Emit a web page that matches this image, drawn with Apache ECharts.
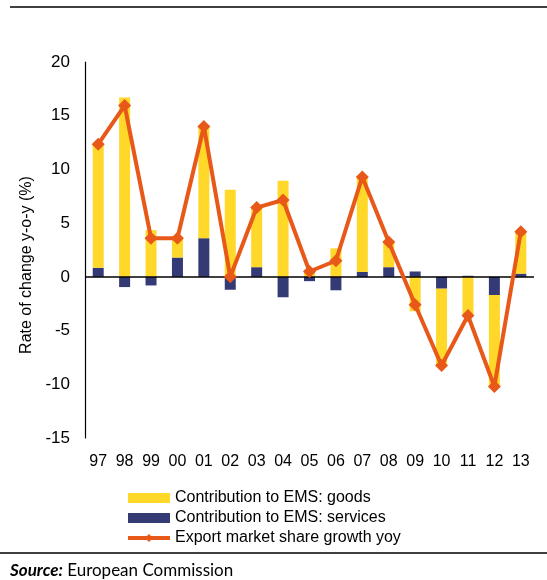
<!DOCTYPE html>
<html>
<head>
<meta charset="utf-8">
<script src="https://cdn.jsdelivr.net/npm/echarts@6/dist/echarts.min.js"></script>
<style>
  html, body { margin: 0; padding: 0; background: #fff; }
  #chart { width: 547px; height: 580px; }
</style>
</head>
<body>
<div id="chart"></div>
<script>
// years 1997-2013
const years = ['97', '98', '99', '00', '01', '02', '03', '04', '05', '06', '07', '08', '09', '10', '11', '12', '13'];
// contribution of services (bottom of stack)
const services = [0.85, -0.95, -0.8, 1.8, 3.6, -1.2, 0.9, -1.9, -0.4, -1.25, 0.45, 0.9, 0.5, -1.1, 0.1, -1.7, 0.3];
// contribution of goods
const goods = [11.55, 16.7, 4.35, 1.95, 10.4, 8.1, 5.65, 8.95, 0.5, 2.65, 8.9, 2.35, -3.2, -7.1, -3.5, -8.35, 3.85];
// export market share growth yoy
const emsGrowth = [12.35, 15.95, 3.6, 3.6, 14.0, 0, 6.45, 7.15, 0.5, 1.5, 9.3, 3.25, -2.6, -8.25, -3.6, -10.2, 4.2];
const yTicks = [-15, 20, 5]; // min, max, step

const chart = echarts.init(document.getElementById('chart'));
const FONT = '"Liberation Sans", Arial, sans-serif';

const option = {
  backgroundColor: '#fff',
  animation: false,
  textStyle: { fontFamily: FONT },
  grid: { left: 85, right: 13, top: 62, bottom: 142, containLabel: false },
  legend: {
    orient: 'vertical',
    left: 121,
    top: 485,
    itemWidth: 42,
    itemHeight: 10,
    itemGap: 4,
    textStyle: { fontSize: 16, color: '#000', fontFamily: FONT },
    data: [
      { name: 'Contribution to EMS: goods', icon: 'rect' },
      { name: 'Contribution to EMS: services', icon: 'rect' },
      { name: 'Export market share growth yoy', lineStyle: { width: 4 } }
    ]
  },
  xAxis: {
    type: 'category',
    data: years,
    axisLine: { show: false, onZero: false },
    axisTick: { show: false },
    axisLabel: { color: '#000', fontSize: 16, margin: 16, fontFamily: FONT }
  },
  yAxis: {
    type: 'value',
    min: yTicks[0],
    max: yTicks[1],
    interval: yTicks[2],
    axisLine: { show: true, lineStyle: { color: '#000', width: 1.2 } },
    axisTick: { show: false },
    splitLine: { show: false },
    axisLabel: { color: '#000', fontSize: 17, margin: 15, fontFamily: FONT }
  },
  series: [
    {
      name: 'Contribution to EMS: services',
      type: 'bar',
      stack: 'ems',
      barWidth: 11,
      data: services,
      itemStyle: { color: '#343A74' },
      markLine: {
        silent: true,
        symbol: 'none',
        label: { show: false },
        lineStyle: { color: '#000', width: 1.5, type: 'solid' },
        data: [{ yAxis: 0 }]
      }
    },
    {
      name: 'Contribution to EMS: goods',
      type: 'bar',
      stack: 'ems',
      barWidth: 11,
      data: goods,
      itemStyle: { color: '#FFD829' }
    },
    {
      name: 'Export market share growth yoy',
      type: 'line',
      data: emsGrowth,
      symbol: 'diamond',
      symbolSize: 13,
      lineStyle: { color: '#E85819', width: 4 },
      itemStyle: { color: '#E85819' },
      z: 5
    }
  ],
  graphic: [
    {
      type: 'line',
      shape: { x1: 10, y1: 7, x2: 547, y2: 7 },
      style: { stroke: '#000', lineWidth: 1.5 }
    },
    {
      type: 'line',
      shape: { x1: 0, y1: 553, x2: 547, y2: 553 },
      style: { stroke: '#000', lineWidth: 1.5 }
    },
    {
      type: 'text',
      x: 27,
      y: 265,
      rotation: Math.PI / 2,
      style: {
        text: 'Rate of change y-o-y (%)',
        font: '16px ' + FONT,
        fill: '#000',
        align: 'center',
        verticalAlign: 'middle'
      }
    },
    {
      type: 'text',
      x: 10,
      y: 571,
      style: {
        text: '{b|Source:} European Commission',
        verticalAlign: 'middle',
        rich: {
          b: { fontStyle: 'italic', fontWeight: 'bold', fontSize: 17, fontFamily: 'Lato, "Open Sans", sans-serif', fill: '#000' }
        },
        fontSize: 17,
        fontFamily: 'Lato, "Open Sans", sans-serif',
        fill: '#000'
      }
    }
  ]
};

chart.setOption(option);
</script>
</body>
</html>
